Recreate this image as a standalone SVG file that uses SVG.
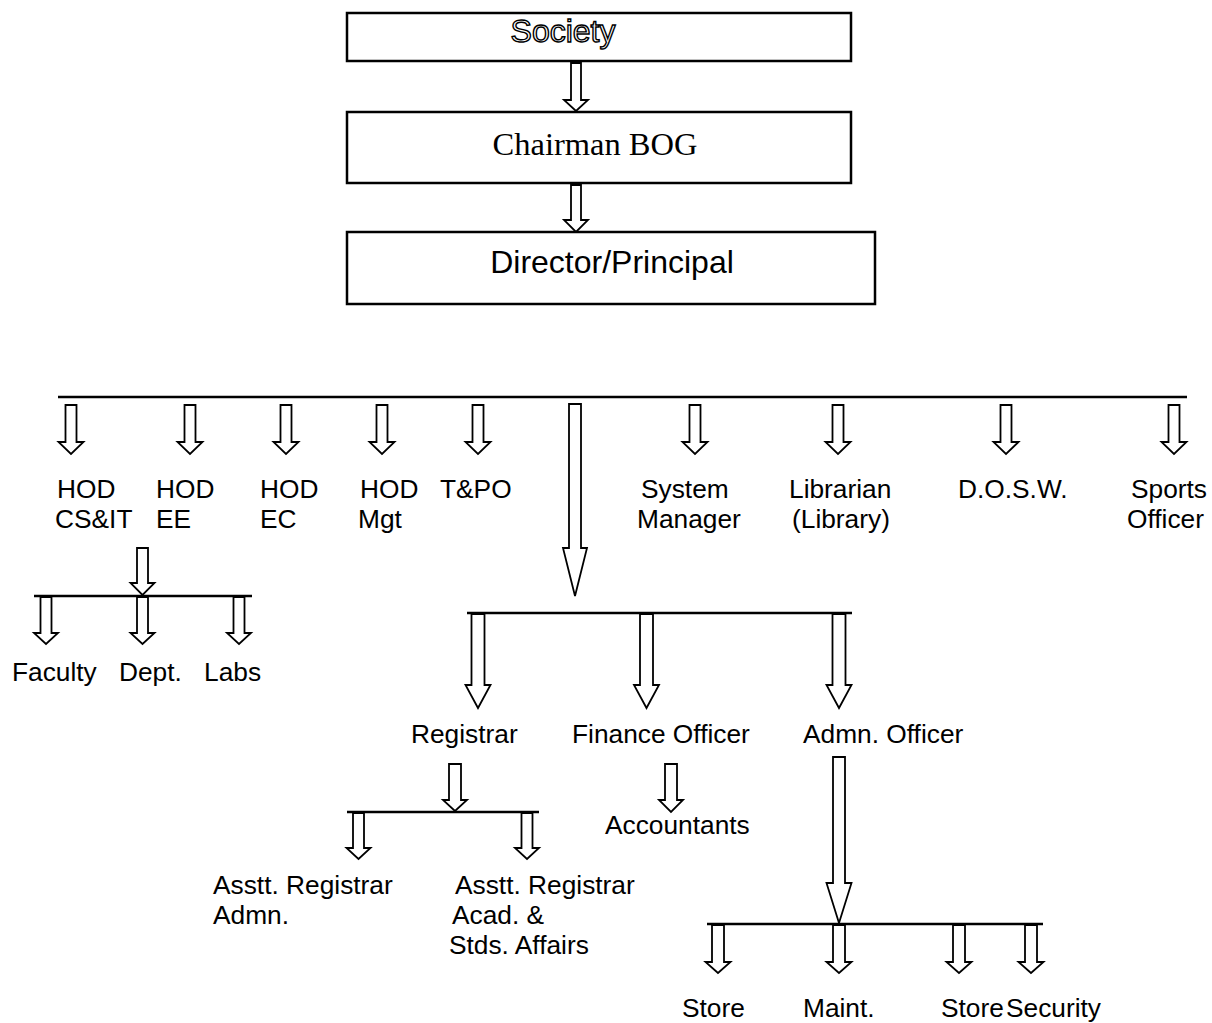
<svg xmlns="http://www.w3.org/2000/svg" width="1212" height="1023" viewBox="0 0 1212 1023">
<style>
.box{fill:#fff;stroke:#000;stroke-width:2.5}
.ar{fill:#fff;stroke:#000;stroke-width:1.8;stroke-linejoin:miter}
.ln{stroke:#000;stroke-width:2.5;fill:none}
.t{font-family:"Liberation Sans",Arial,sans-serif;font-size:26.3px;fill:#000}
</style>
<rect width="1212" height="1023" fill="#fff"/>
<g id="connectors">
<path class="ar" d="M571,63 L581,63 L581,100 L588,100 L576,111 L564,100 L571,100 Z"/>
<path class="ar" d="M571,185 L581,185 L581,220 L588,220 L576,232 L564,220 L571,220 Z"/>
<line class="ln" x1="58" y1="397" x2="1187" y2="397"/>
<path class="ar" d="M65.5,405 L76.5,405 L76.5,442 L83.5,442 L71,454 L58.5,442 L65.5,442 Z"/>
<path class="ar" d="M184.5,405 L195.5,405 L195.5,442 L202.5,442 L190,454 L177.5,442 L184.5,442 Z"/>
<path class="ar" d="M280.5,405 L291.5,405 L291.5,442 L298.5,442 L286,454 L273.5,442 L280.5,442 Z"/>
<path class="ar" d="M376.5,405 L387.5,405 L387.5,442 L394.5,442 L382,454 L369.5,442 L376.5,442 Z"/>
<path class="ar" d="M472.5,405 L483.5,405 L483.5,442 L490.5,442 L478,454 L465.5,442 L472.5,442 Z"/>
<path class="ar" d="M569,404 L581,404 L581,548 L587,548 L575,596 L563,548 L569,548 Z"/>
<path class="ar" d="M689.5,405 L700.5,405 L700.5,442 L707.5,442 L695,454 L682.5,442 L689.5,442 Z"/>
<path class="ar" d="M832.5,405 L843.5,405 L843.5,442 L850.5,442 L838,454 L825.5,442 L832.5,442 Z"/>
<path class="ar" d="M1000.5,405 L1011.5,405 L1011.5,442 L1018.5,442 L1006,454 L993.5,442 L1000.5,442 Z"/>
<path class="ar" d="M1168.5,405 L1179.5,405 L1179.5,442 L1186.5,442 L1174,454 L1161.5,442 L1168.5,442 Z"/>
<path class="ar" d="M137,548 L148,548 L148,583 L154.5,583 L142.5,595 L130.5,583 L137,583 Z"/>
<line class="ln" x1="34" y1="596" x2="252" y2="596"/>
<path class="ar" d="M40.5,597 L51.5,597 L51.5,633 L58,633 L46,644 L34,633 L40.5,633 Z"/>
<path class="ar" d="M137,597 L148,597 L148,633 L154.5,633 L142.5,644 L130.5,633 L137,633 Z"/>
<path class="ar" d="M233.5,597 L244.5,597 L244.5,633 L251,633 L239,644 L227,633 L233.5,633 Z"/>
<line class="ln" x1="467" y1="613" x2="852" y2="613"/>
<path class="ar" d="M471.5,614 L484.5,614 L484.5,685 L490.5,685 L478,708 L465.5,685 L471.5,685 Z"/>
<path class="ar" d="M640,614 L653,614 L653,685 L659,685 L646.5,708 L634,685 L640,685 Z"/>
<path class="ar" d="M832.5,614 L845.5,614 L845.5,685 L851.5,685 L839,708 L826.5,685 L832.5,685 Z"/>
<path class="ar" d="M449,764 L461,764 L461,800 L467,800 L455,811 L443,800 L449,800 Z"/>
<line class="ln" x1="347" y1="812" x2="539" y2="812"/>
<path class="ar" d="M353,813 L364,813 L364,848 L370.5,848 L358.5,859 L346.5,848 L353,848 Z"/>
<path class="ar" d="M521.5,813 L532.5,813 L532.5,848 L539,848 L527,859 L515,848 L521.5,848 Z"/>
<path class="ar" d="M665,764 L677,764 L677,800 L683,800 L671,812 L659,800 L665,800 Z"/>
<path class="ar" d="M833,757 L845,757 L845,883 L851.5,883 L839,923 L826.5,883 L833,883 Z"/>
<line class="ln" x1="707" y1="924" x2="1043" y2="924"/>
<path class="ar" d="M712,925 L724,925 L724,962 L730.5,962 L718,973 L705.5,962 L712,962 Z"/>
<path class="ar" d="M833,925 L845,925 L845,962 L851.5,962 L839,973 L826.5,962 L833,962 Z"/>
<path class="ar" d="M953,925 L965,925 L965,962 L971.5,962 L959,973 L946.5,962 L953,962 Z"/>
<path class="ar" d="M1025,925 L1037,925 L1037,962 L1043.5,962 L1031,973 L1018.5,962 L1025,962 Z"/>
</g>
<g id="society"><rect class="box" x="347" y="13" width="504" height="48"/>
<text x="563" y="42" text-anchor="middle" style="font-family:'Liberation Sans',Arial,sans-serif;font-size:32px;fill:#fff;stroke:#000;stroke-width:1.4">Society</text></g>
<g id="chairman"><rect class="box" x="347" y="112" width="504" height="71"/>
<text x="595" y="155" text-anchor="middle" style="font-family:'Liberation Serif','Times New Roman',serif;font-size:32.5px;fill:#000">Chairman BOG</text></g>
<g id="director"><rect class="box" x="347" y="232" width="528" height="72"/>
<text x="612" y="273" text-anchor="middle" style="font-family:'Liberation Sans',Arial,sans-serif;font-size:32px;fill:#000">Director/Principal</text></g>
<g id="hod-csit"><text class="t" x="57" y="498">HOD</text><text class="t" x="55" y="528">CS&amp;IT</text></g>
<g id="hod-ee"><text class="t" x="156" y="498">HOD</text><text class="t" x="156" y="528">EE</text></g>
<g id="hod-ec"><text class="t" x="260" y="498">HOD</text><text class="t" x="260" y="528">EC</text></g>
<g id="hod-mgt"><text class="t" x="360" y="498">HOD</text><text class="t" x="358" y="528">Mgt</text></g>
<g id="tpo"><text class="t" x="440" y="498">T&amp;PO</text></g>
<g id="system-manager"><text class="t" x="641" y="498">System</text><text class="t" x="637" y="528">Manager</text></g>
<g id="librarian"><text class="t" x="789" y="498">Librarian</text><text class="t" x="792" y="528">(Library)</text></g>
<g id="dosw"><text class="t" x="958" y="498">D.O.S.W.</text></g>
<g id="sports"><text class="t" x="1131" y="498">Sports</text><text class="t" x="1127" y="528">Officer</text></g>
<g id="faculty"><text class="t" x="12" y="681">Faculty</text></g>
<g id="dept"><text class="t" x="119" y="681">Dept.</text></g>
<g id="labs"><text class="t" x="204" y="681">Labs</text></g>
<g id="registrar"><text class="t" x="411" y="743">Registrar</text></g>
<g id="finance"><text class="t" x="572" y="743">Finance Officer</text></g>
<g id="admn"><text class="t" x="803" y="743">Admn. Officer</text></g>
<g id="accountants"><text class="t" x="605" y="834">Accountants</text></g>
<g id="asst-admn"><text class="t" x="213" y="894">Asstt. Registrar</text><text class="t" x="213" y="924">Admn.</text></g>
<g id="asst-acad"><text class="t" x="455" y="894">Asstt. Registrar</text><text class="t" x="452" y="924">Acad. &amp;</text><text class="t" x="449" y="954">Stds. Affairs</text></g>
<g id="store1"><text class="t" x="682" y="1017">Store</text></g>
<g id="maint"><text class="t" x="803" y="1017">Maint.</text></g>
<g id="store2"><text class="t" x="941" y="1017">Store</text></g>
<g id="security"><text class="t" x="1006" y="1017">Security</text></g>
</svg>
